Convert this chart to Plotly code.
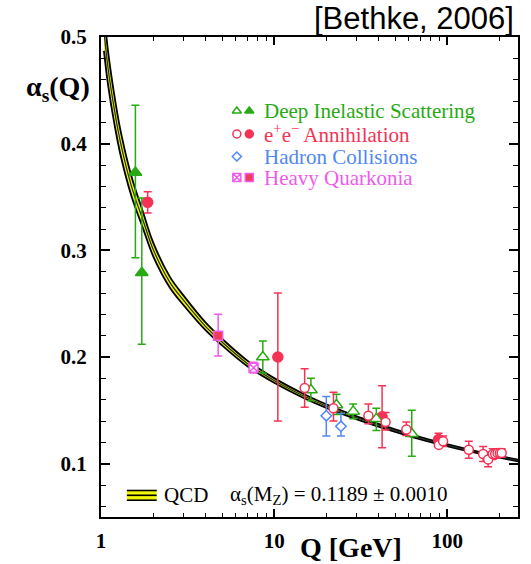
import plotly.graph_objects as go

# ---------------- data ----------------
# QCD running band, alpha_s(MZ)=0.1189 +- 0.0010 (values read / estimated along the band)
qcd_q = [1.04, 1.1, 1.2, 1.3, 1.5, 1.75, 2.0, 2.5, 3.0, 4.0, 5.0, 7.0, 10, 15, 20, 30, 50, 70, 91.2, 130, 180, 260]
qcd_alpha = [0.505, 0.470, 0.430, 0.400, 0.360, 0.328, 0.301, 0.270, 0.253, 0.229, 0.214, 0.194, 0.178,
             0.163, 0.154, 0.143, 0.131, 0.1238, 0.1189, 0.1128, 0.1078, 0.1028]
qcd_halfwidth = [0.0180, 0.0156, 0.0131, 0.0113, 0.0092, 0.0076, 0.0064, 0.0051, 0.0045, 0.0036, 0.0031,
                 0.0026, 0.0022, 0.0019, 0.0017, 0.0014, 0.0012, 0.0011, 0.0010, 0.0009, 0.00082, 0.00075]

# Deep Inelastic Scattering
dis_open_q = [8.6, 16.3, 22.9, 28.6, 38.9, 62.3]
dis_open_a = [0.200, 0.169, 0.155, 0.149, 0.142, 0.128]
dis_open_up = [0.015, 0.011, 0.010, 0.007, 0.010, 0.022]
dis_open_dn = [0.015, 0.010, 0.009, 0.007, 0.011, 0.021]
dis_fill_q = [1.58, 1.72]
dis_fill_a = [0.373, 0.279]
dis_fill_up = [0.063, 0.070]
dis_fill_dn = [0.080, 0.067]

# e+e- Annihilation
ee_open_q = [15.0, 22.0, 35.0, 44.0, 58.0, 89.3, 94.5, 133, 161, 172, 183, 189, 195, 201, 206]
ee_open_a = [0.171, 0.152, 0.145, 0.139, 0.132, 0.1176, 0.121, 0.113, 0.109, 0.104, 0.109, 0.109, 0.110, 0.110, 0.110]
ee_open_up = [0.018, 0.015, 0.011, 0.009, 0.007, 0.0022, 0.005, 0.008, 0.007, 0.007, 0.005, 0.004, 0.004, 0.004, 0.004]
ee_open_dn = [0.018, 0.012, 0.0075, 0.0075, 0.0056, 0.0022, 0.005, 0.008, 0.007, 0.007, 0.005, 0.004, 0.004, 0.004, 0.004]
ee_fill_q = [1.86, 10.5, 42.0, 89.0]
ee_fill_a = [0.345, 0.200, 0.144, 0.1226]
ee_fill_up = [0.010, 0.060, 0.029, 0.0058]
ee_fill_dn = [0.010, 0.060, 0.029, 0.0038]

# Hadron Collisions
had_q = [20.0, 24.3]
had_a = [0.145, 0.135]
had_up = [0.018, 0.012]
had_dn = [0.019, 0.009]

# Heavy Quarkonia
hq_open_q = [7.6]
hq_open_a = [0.190]
hq_open_err = [0.005]
hq_fill_q = [4.75]
hq_fill_a = [0.220]
hq_fill_up = [0.020]
hq_fill_dn = [0.019]

y_tick_vals = [0.1, 0.2, 0.3, 0.4, 0.5]
y_tick_text = ["0.1", "0.2", "0.3", "0.4", "0.5"]
x_tick_vals = [1, 10, 100]
x_tick_text = ["1", "10", "100"]

# ---------------- styling ----------------
GREEN = "rgb(40,170,20)"
RED = "rgb(245,50,85)"
BLUE = "rgb(80,135,245)"
PINK = "rgb(240,90,235)"
YELLOW = "rgb(240,245,10)"
SERIF = "Liberation Serif"

W, H = 531, 564
L, R, T, B = 101, 11, 37, 47
PW, PH = W - L - R, H - T - B


def fx(px):
    return (px - L) / PW


def fy(py):
    return (H - B - py) / PH


fig = go.Figure()

upper = [a + d for a, d in zip(qcd_alpha, qcd_halfwidth)]
lower = [a - d for a, d in zip(qcd_alpha, qcd_halfwidth)]
fig.add_trace(go.Scatter(x=qcd_q, y=lower, mode="lines", line=dict(color="black", width=1.8, shape="spline"),
                         hoverinfo="skip", showlegend=False))
fig.add_trace(go.Scatter(x=qcd_q, y=upper, mode="lines", line=dict(color="black", width=1.8, shape="spline"),
                         fill="tonexty", fillcolor=YELLOW, hoverinfo="skip", showlegend=False))
fig.add_trace(go.Scatter(x=qcd_q, y=qcd_alpha, mode="lines", line=dict(color="rgb(30,40,40)", width=1.2, shape="spline"),
                         hoverinfo="skip", showlegend=False))


def pts(q, a, up, dn, color, symbol, fill, size, lw=1.5):
    fig.add_trace(go.Scatter(
        x=q, y=a, mode="markers",
        marker=dict(symbol=symbol, size=size, color=fill, line=dict(color=color, width=lw)),
        error_y=dict(type="data", symmetric=False, array=up, arrayminus=dn, color=color, thickness=1.5, width=4),
        showlegend=False, cliponaxis=False))


pts(dis_fill_q, dis_fill_a, dis_fill_up, dis_fill_dn, GREEN, "triangle-up", GREEN, 11)
pts(ee_fill_q, ee_fill_a, ee_fill_up, ee_fill_dn, RED, "circle", RED, 10)
pts(hq_fill_q, hq_fill_a, hq_fill_up, hq_fill_dn, PINK, "square", "rgb(240,60,90)", 9)
pts(hq_open_q, hq_open_a, hq_open_err, hq_open_err, PINK, "square-x", "white", 9)
pts(had_q, had_a, had_up, had_dn, BLUE, "diamond", "white", 8)
pts(dis_open_q, dis_open_a, dis_open_up, dis_open_dn, GREEN, "triangle-up", "white", 11)
pts(ee_open_q, ee_open_a, ee_open_up, ee_open_dn, RED, "circle", "white", 9)

# legend keys on an overlay axis in plot-fraction units
key_x_open, key_x_fill = fx(237.5), fx(250)
key_rows = [(fy(111), GREEN, "triangle-up", True), (fy(134), RED, "circle", True),
            (fy(156.5), BLUE, "diamond", False), (fy(177.5), PINK, "square-x", True)]
for yk, col, sym, has_fill in key_rows:
    fig.add_trace(go.Scatter(x=[key_x_open], y=[yk], xaxis="x2", yaxis="y2", mode="markers",
                             marker=dict(symbol=sym, size=8 if sym != "diamond" else 7, color="white",
                                         line=dict(color=col, width=1.5)), showlegend=False, hoverinfo="skip"))
    if has_fill:
        fsym = "square" if sym == "square-x" else sym
        fcol = "rgb(240,60,90)" if sym == "square-x" else col
        fig.add_trace(go.Scatter(x=[key_x_fill], y=[yk], xaxis="x2", yaxis="y2", mode="markers",
                                 marker=dict(symbol=fsym, size=8, color=fcol, line=dict(color=col, width=1.5)),
                                 showlegend=False, hoverinfo="skip"))

legend_texts = [("Deep Inelastic Scattering", GREEN, 111), ("e<sup>+</sup>e<sup>\u2212</sup> Annihilation", RED, 134),
                ("Hadron Collisions", BLUE, 157), ("Heavy Quarkonia", PINK, 178)]
annotations = []
for txt, col, py in legend_texts:
    annotations.append(dict(x=fx(263), y=fy(py), xref="paper", yref="paper", text=txt, showarrow=False,
                            xanchor="left", yanchor="middle", font=dict(family=SERIF, size=21, color=col)))

annotations += [
    dict(x=fx(518), y=fy(18), xref="paper", yref="paper", text="[Bethke, 2006]", showarrow=False,
         xanchor="right", yanchor="middle", font=dict(family="Liberation Sans", size=31, color="black")),
    dict(x=fx(58), y=fy(89), xref="paper", yref="paper", text="<b>\u03b1<sub>s</sub>(Q)</b>", showarrow=False,
         xanchor="center", yanchor="middle", font=dict(family=SERIF, size=28, color="black")),
    dict(x=fx(352), y=fy(547), xref="paper", yref="paper", text="<b>Q [GeV]</b>", showarrow=False,
         xanchor="center", yanchor="middle", font=dict(family=SERIF, size=28, color="black")),
    dict(x=fx(162), y=fy(495), xref="paper", yref="paper", text="QCD", showarrow=False,
         xanchor="left", yanchor="middle", font=dict(family=SERIF, size=21, color="black")),
    dict(x=fx(229), y=fy(495), xref="paper", yref="paper",
         text="\u03b1<sub>s</sub>(M<sub>Z</sub>) = 0.1189 \u00b1 0.0010", showarrow=False,
         xanchor="left", yanchor="middle", font=dict(family=SERIF, size=21, color="black")),
]

shapes = [
    dict(type="rect", xref="paper", yref="paper", x0=fx(127), x1=fx(157), y0=fy(500.5), y1=fy(490),
         fillcolor=YELLOW, line=dict(width=0)),
]
for py in (490.5, 495.3, 500.2):
    shapes.append(dict(type="line", xref="paper", yref="paper", x0=fx(127), x1=fx(157), y0=fy(py), y1=fy(py),
                       line=dict(color="black", width=1.6)))

axis_common = dict(showline=True, linecolor="black", linewidth=2, mirror="allticks", ticks="inside",
                   tickcolor="black", tickwidth=1.5, showgrid=False, zeroline=False,
                   tickfont=dict(family=SERIF, size=21, color="black", weight="bold"))

fig.update_layout(
    width=W, height=H, margin=dict(l=L, r=R, t=T, b=B),
    paper_bgcolor="white", plot_bgcolor="white", showlegend=False,
    xaxis=dict(type="log", range=[0, 2.408], tickvals=x_tick_vals, ticktext=x_tick_text, ticklen=8,
               ticklabelstandoff=4, minor=dict(ticks="inside", ticklen=4, tickcolor="black", tickwidth=1,
                                               dtick="D1", showgrid=False), **axis_common),
    yaxis=dict(range=[0.05, 0.5], tickvals=y_tick_vals, ticktext=y_tick_text, ticklen=9, ticklabelstandoff=8,
               minor=dict(ticks="inside", ticklen=5, tickcolor="black", tickwidth=1, dtick=0.02,
                          tick0=0.0, showgrid=False), **axis_common),
    xaxis2=dict(overlaying="x", range=[0, 1], visible=False),
    yaxis2=dict(overlaying="y", range=[0, 1], visible=False),
    annotations=annotations, shapes=shapes,
)

fig.write_html("out.html")
